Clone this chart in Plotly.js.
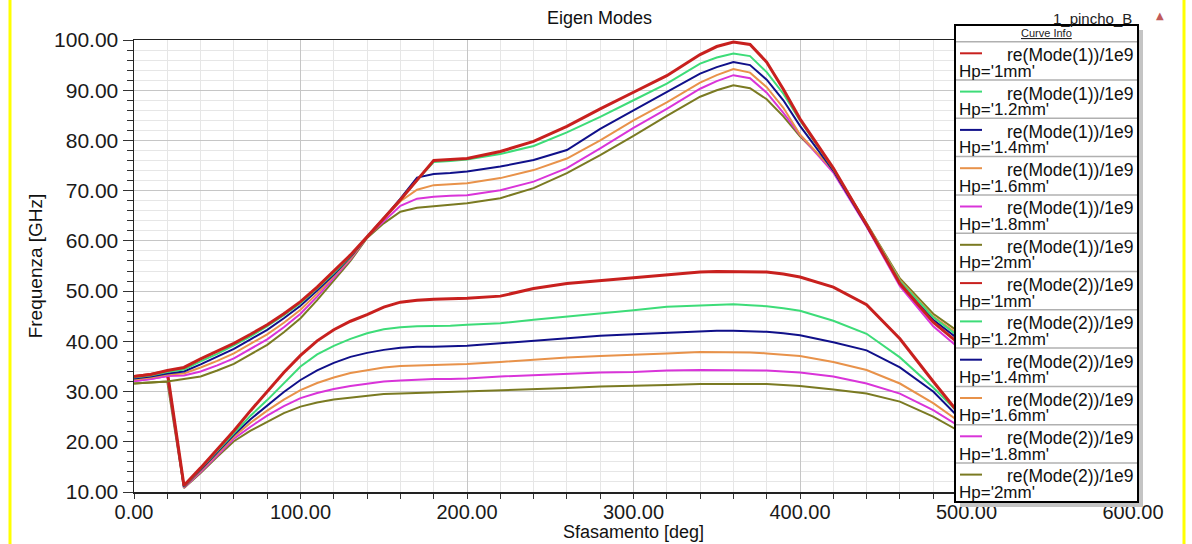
<!DOCTYPE html>
<html><head><meta charset="utf-8">
<script src="https://cdn.plot.ly/plotly-3.0.1.min.js"></script>
<style>html,body{margin:0;padding:0;background:#fff;}#chart{width:1192px;height:544px;}</style>
</head><body><div id="chart"></div>
<script>
// ---- data ----
const phase = [0,10,20,30,40,50,60,70,80,90,100,110,120,130,140,150,160,170,180,190,200,
  220,240,260,280,300,320,340,350,360,370,380,390,400,420,440,460,480,500];

const mode1_1mm  = [33.0,33.4,34.2,34.8,36.5,38.0,39.6,41.4,43.3,45.5,47.9,50.8,53.9,57.2,60.8,64.4,68.2,72.1,76.0,76.2,76.4,
  77.8,79.8,82.8,86.3,89.6,92.9,97.1,98.7,99.6,99.1,95.6,90.2,84.3,74.5,63.2,51.5,43.8,38.3];
const mode1_12mm = [32.8,33.2,33.9,34.4,36.0,37.5,39.2,41.0,43.0,45.2,47.6,50.5,53.6,57.0,60.8,64.4,68.2,72.1,75.7,75.9,76.2,
  77.3,78.9,81.6,84.7,88.0,91.3,95.3,96.5,97.3,96.8,93.6,89.3,84.0,74.3,63.3,52.0,44.8,39.8];
const mode1_14mm = [32.6,33.0,33.6,34.0,35.4,36.9,38.5,40.4,42.3,44.6,47.1,50.1,53.3,56.8,60.8,64.5,68.4,72.6,73.3,73.5,73.8,
  74.8,76.1,78.1,82.3,86.0,89.6,93.3,94.6,95.6,95.0,92.1,88.0,82.9,74.0,63.0,51.6,44.3,39.2];
const mode1_16mm = [32.4,32.8,33.4,33.6,34.8,36.1,37.6,39.5,41.4,43.7,46.3,49.5,52.9,56.5,60.8,64.3,67.9,70.2,71.1,71.3,71.5,
  72.5,74.1,76.4,80.0,84.0,87.6,91.5,93.0,94.2,93.5,90.6,86.5,81.2,74.0,63.4,52.2,45.0,40.2];
const mode1_18mm = [32.1,32.5,33.1,33.2,34.0,35.2,36.6,38.5,40.4,42.8,45.5,48.9,52.5,56.3,60.8,64.0,67.0,68.4,68.8,69.0,69.1,
  70.1,71.8,74.5,78.4,82.5,86.3,90.3,91.8,93.0,92.4,89.5,85.5,81.1,73.6,62.8,51.0,43.0,37.4];
const mode1_2mm  = [31.6,31.8,32.0,32.5,33.0,34.2,35.5,37.4,39.3,41.8,44.6,48.2,52.0,56.0,60.6,63.5,65.8,66.6,66.9,67.2,67.5,
  68.5,70.5,73.5,77.1,80.9,84.9,88.7,90.0,91.0,90.4,88.2,84.8,80.8,74.2,63.5,52.5,45.5,40.8];

const mode2_1mm  = [33.0,33.4,34.0,11.3,14.8,18.5,22.2,26.2,30.0,33.8,37.2,40.1,42.3,44.0,45.3,46.8,47.8,48.2,48.4,48.5,48.6,
  49.0,50.5,51.5,52.1,52.6,53.2,53.8,53.9,53.9,53.9,53.8,53.4,52.8,50.8,47.3,40.5,32.0,23.8];
const mode2_12mm = [32.8,33.2,33.9,11.2,14.6,18.2,21.8,25.2,28.3,31.6,35.0,37.4,39.1,40.5,41.6,42.4,42.8,43.0,43.0,43.1,43.3,
  43.6,44.3,44.9,45.6,46.2,46.9,47.2,47.3,47.4,47.2,47.0,46.6,46.1,44.1,41.5,36.8,30.8,24.2];
const mode2_14mm = [32.6,33.0,33.6,11.1,14.4,17.9,21.4,24.5,27.2,29.9,32.3,34.2,35.7,36.9,37.7,38.3,38.7,38.9,38.9,39.0,39.1,
  39.6,40.1,40.6,41.1,41.4,41.7,42.1,42.1,42.1,42.0,41.9,41.6,41.2,39.8,38.2,34.8,30.0,23.3];
const mode2_16mm = [32.4,32.8,33.4,11.0,14.2,17.6,21.0,23.8,26.2,28.4,30.3,31.7,32.8,33.7,34.3,34.8,35.1,35.2,35.3,35.4,35.5,
  35.9,36.4,36.8,37.1,37.3,37.6,37.9,37.9,37.9,37.8,37.6,37.4,37.1,35.9,34.3,31.6,27.7,23.0];
const mode2_18mm = [32.1,32.5,33.1,10.9,14.0,17.3,20.6,23.0,25.2,27.1,28.7,29.7,30.5,31.1,31.6,32.0,32.2,32.4,32.5,32.5,32.6,
  33.0,33.3,33.5,33.8,33.9,34.2,34.3,34.3,34.3,34.2,34.2,34.0,33.8,33.0,31.6,29.6,26.3,22.2];
const mode2_2mm  = [31.6,31.8,32.0,10.8,13.8,17.0,20.1,22.2,24.0,25.7,27.0,27.8,28.4,28.8,29.2,29.5,29.6,29.7,29.8,29.9,30.0,
  30.2,30.4,30.7,31.0,31.1,31.3,31.5,31.5,31.5,31.5,31.5,31.3,31.1,30.4,29.6,28.0,25.0,21.3];

const modeLabels = ['re(Mode(1))/1e9', 're(Mode(2))/1e9'];
const hpLabels = ["Hp='1mm'", "Hp='1.2mm'", "Hp='1.4mm'", "Hp='1.6mm'", "Hp='1.8mm'", "Hp='2mm'"];
const seriesValues = [
  [mode1_1mm, mode1_12mm, mode1_14mm, mode1_16mm, mode1_18mm, mode1_2mm],
  [mode2_1mm, mode2_12mm, mode2_14mm, mode2_16mm, mode2_18mm, mode2_2mm]
];
const colors = ['#c8201e', '#3ddc78', '#10108a', '#e8924a', '#d934d9', '#7a7a22'];
const widths = [3, 2, 2, 2, 2, 2];

// ---- geometry ----
const W = 1192, H = 544, ML = 134, MR = 59, MT = 40, MB = 52;
const PW = W - ML - MR, PH = H - MT - MB;
const px = p => (p - ML) / PW;
const py = p => (H - MB - p) / PH;
const FONT = 'Liberation Sans, Arial, sans-serif';

// traces: mode 2 first, then mode 1; within each, 2mm first so red ends on top
const traces = [];
for (let m = 1; m >= 0; m--) {
  for (let k = 5; k >= 0; k--) {
    traces.push({
      type: 'scatter', mode: 'lines', x: phase, y: seriesValues[m][k],
      name: modeLabels[m] + ' ' + hpLabels[k],
      line: {color: colors[k], width: widths[k]},
      hoverinfo: 'x+y+name'
    });
  }
}

// legend box (HFSS style "Curve Info")
const shapes = [];
const annotations = [];
const LX0 = 955, LX1 = 1138, LY0 = 25, LY1 = 502, PITCH = 38.3;
shapes.push({type:'rect', xref:'paper', yref:'paper', x0:px(LX0+5), x1:px(LX1+5), y0:py(LY0+5), y1:py(LY1+5),
  fillcolor:'#c4c4c4', line:{width:0}, layer:'above'});
shapes.push({type:'rect', xref:'paper', yref:'paper', x0:px(LX0), x1:px(LX1), y0:py(LY0), y1:py(LY1),
  fillcolor:'#ffffff', line:{color:'#000', width:2}, layer:'above'});
annotations.push({xref:'paper', yref:'paper', x:px((LX0+LX1)/2), y:py(33), text:'<u>Curve Info</u>',
  showarrow:false, xanchor:'center', yanchor:'middle', font:{family:FONT, size:11, color:'#222'}});
let idx = 0;
for (let m = 0; m < 2; m++) {
  for (let k = 0; k < 6; k++) {
    const top = 41.7 + PITCH * idx;
    shapes.push({type:'line', xref:'paper', yref:'paper', x0:px(LX0+1), x1:px(LX1-1), y0:py(top), y1:py(top),
      line:{color:'#b0b0b0', width:1.5}, layer:'above'});
    shapes.push({type:'line', xref:'paper', yref:'paper', x0:px(960), x1:px(982), y0:py(top+11.6), y1:py(top+11.6),
      line:{color:colors[k], width:2}, layer:'above'});
    annotations.push({xref:'paper', yref:'paper', x:px(1135), y:py(top+13.5), text:modeLabels[m],
      showarrow:false, xanchor:'right', yanchor:'middle', font:{family:FONT, size:17.5, color:'#111'}});
    annotations.push({xref:'paper', yref:'paper', x:px(957), y:py(top+29.5), text:hpLabels[k],
      showarrow:false, xanchor:'left', yanchor:'middle', font:{family:FONT, size:17, color:'#111'}});
    idx++;
  }
}
// header texts
annotations.push({xref:'paper', yref:'paper', x:px(1134), y:py(18), text:'1_pincho_B', showarrow:false,
  xanchor:'right', yanchor:'middle', font:{family:FONT, size:15, color:'#222'}});
annotations.push({xref:'paper', yref:'paper', x:px(1160), y:py(15), text:'▲', showarrow:false,
  xanchor:'center', yanchor:'middle', font:{family:'DejaVu Sans', size:10, color:'#c05a5a'}});
// yellow page borders
shapes.push({type:'line', xref:'paper', yref:'paper', x0:px(10), x1:px(10), y0:py(0), y1:py(H),
  line:{color:'#ffff00', width:3}, layer:'above'});
shapes.push({type:'line', xref:'paper', yref:'paper', x0:px(1184), x1:px(1184), y0:py(0), y1:py(H),
  line:{color:'#ffff00', width:3}, layer:'above'});

const layout = {
  width: W, height: H,
  margin: {l: ML, r: MR, t: MT, b: MB, pad: 0},
  paper_bgcolor: '#fff', plot_bgcolor: '#fff',
  showlegend: false,
  title: {text: 'Eigen Modes', x: 0.503, xref: 'container', y: 1 - 18/H, yref: 'container', yanchor: 'middle',
    font: {family: FONT, size: 18, color: '#111'}},
  xaxis: {
    range: [0, 600], dtick: 100, tick0: 0, tickformat: '.2f',
    ticks: 'outside', ticklen: 5, tickcolor: '#333', tickwidth: 1,
    showline: true, linecolor: '#222', linewidth: 1.5, mirror: true,
    showgrid: true, gridcolor: '#c6c6c6', gridwidth: 1, zeroline: false,
    minor: {dtick: 20, ticks: 'outside', ticklen: 5, tickcolor: '#333', showgrid: true, gridcolor: '#e6e6e6', gridwidth: 1},
    tickfont: {family: FONT, size: 20, color: '#1a1a1a'},
    ticklabelstandoff: -4,
    automargin: false,
    title: {text: 'Sfasamento [deg]', standoff: 0, font: {family: FONT, size: 18, color: '#111'}}
  },
  yaxis: {
    range: [10, 100], dtick: 10, tick0: 0, tickformat: '.2f',
    ticks: 'outside', ticklen: 10, tickcolor: '#333', tickwidth: 1,
    showline: true, linecolor: '#222', linewidth: 1.5, mirror: true,
    showgrid: true, gridcolor: '#c6c6c6', gridwidth: 1, zeroline: false,
    minor: {dtick: 2, ticks: 'outside', ticklen: 6, tickcolor: '#333', showgrid: true, gridcolor: '#e6e6e6', gridwidth: 1},
    tickfont: {family: FONT, size: 21, color: '#1a1a1a'},
    automargin: false,
    title: {text: 'Frequenza [GHz]', standoff: 6, font: {family: FONT, size: 19, color: '#111'}}
  },
  shapes: shapes,
  annotations: annotations
};

Plotly.newPlot('chart', traces, layout, {displayModeBar: false, staticPlot: true});
</script>
</body></html>
